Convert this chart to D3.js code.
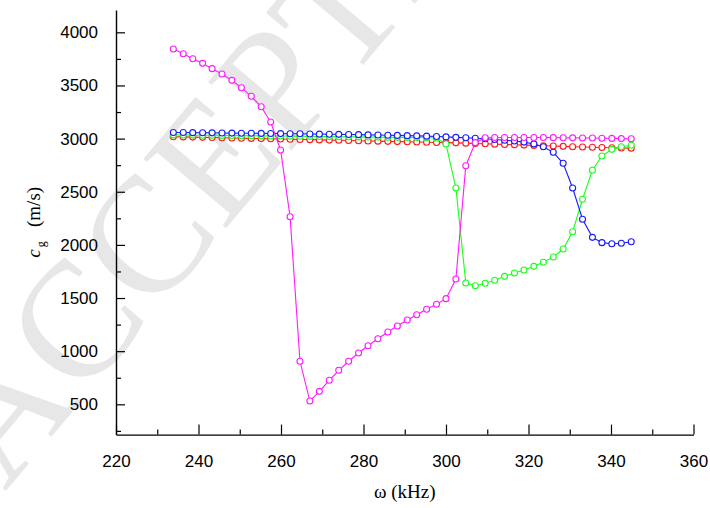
<!DOCTYPE html>
<html>
<head>
<meta charset="utf-8">
<script src="https://cdn.jsdelivr.net/npm/d3@7"></script>
<style>
  html, body { margin: 0; padding: 0; background: #fff; }
  svg { display: block; }
</style>
</head>
<body>
<svg id="chart" width="710" height="508"></svg>
<script>
// Frequency (kHz) sampled for every mode
const freq = [233.9, 236.3, 238.6, 241.0, 243.3, 245.7, 248.1, 250.4, 252.8, 255.2,
  257.5, 259.9, 262.2, 264.6, 267.0, 269.3, 271.7, 274.0, 276.4, 278.8,
  281.1, 283.5, 285.9, 288.2, 290.6, 292.9, 295.3, 297.7, 300.0, 302.4,
  304.8, 307.1, 309.5, 311.8, 314.2, 316.6, 318.9, 321.3, 323.6, 326.0,
  328.4, 330.7, 333.1, 335.5, 337.8, 340.2, 342.5, 344.9];

// Group velocity (m/s) of each mode
const modeRed = [3018, 3016, 3014, 3012, 3010, 3008, 3006, 3004, 3002, 3000,
  2998, 2996, 2994, 2992, 2990, 2988, 2986, 2984, 2982, 2980,
  2978, 2976, 2974, 2972, 2970, 2968, 2966, 2964, 2962, 2960,
  2957, 2954, 2951, 2948, 2945, 2942, 2939, 2936, 2933, 2930,
  2927, 2924, 2921, 2918, 2916, 2914, 2912, 2910];

const modeGreen = [3035, 3034, 3033, 3032, 3031, 3030, 3029, 3028, 3027, 3026,
  3025, 3024, 3023, 3022, 3021, 3020, 3019, 3018, 3017, 3016,
  3015, 3014, 3013, 3012, 3011, 3010, 3008, 3005, 2949, 2535,
  1641, 1616, 1639, 1667, 1704, 1735, 1764, 1798, 1836, 1886,
  1961, 2124, 2429, 2702, 2836, 2899, 2924, 2937];

const modeBlue = [3058, 3057, 3056, 3055, 3054, 3053, 3052, 3051, 3050, 3049,
  3048, 3047, 3046, 3045, 3044, 3042, 3041, 3040, 3038, 3037,
  3035, 3034, 3032, 3030, 3028, 3026, 3023, 3020, 3016, 3012,
  3008, 3003, 2998, 2992, 2985, 2977, 2967, 2950, 2924, 2871,
  2768, 2535, 2241, 2071, 2021, 2011, 2015, 2030];

const modeMagenta = [3843, 3799, 3752, 3708, 3658, 3608, 3548, 3479, 3398, 3300,
  3156, 2893, 2265, 905, 531, 622, 726, 820, 905, 983,
  1051, 1117, 1180, 1237, 1293, 1343, 1394, 1441, 1494, 1679,
  2745, 2962, 3008, 3010, 3011, 3011, 3011, 3010, 3010, 3009,
  3008, 3007, 3006, 3005, 3004, 3002, 3000, 2998];

const xMajorTicks = [220, 240, 260, 280, 300, 320, 340, 360];
const xMinorTicks = [230, 250, 270, 290, 310, 330, 350];
const yMajorTicks = [500, 1000, 1500, 2000, 2500, 3000, 3500, 4000];
const yMinorTicks = [250, 750, 1250, 1750, 2250, 2750, 3250, 3750];

const series = [
  { values: modeRed, color: "#ff1a1a" },
  { values: modeGreen, color: "#1aff1a" },
  { values: modeBlue, color: "#1a1aff" },
  { values: modeMagenta, color: "#ff1aff" }
];

const svg = d3.select("#chart");

// Faint diagonal watermark behind the plot, clipped to the page
svg.append("clipPath").attr("id", "page")
  .append("rect").attr("width", 710).attr("height", 508);
svg.append("g").attr("clip-path", "url(#page)")
  .append("text")
  .attr("transform", "translate(5,492) rotate(-50)")
  .attr("font-family", "'Liberation Serif', 'DejaVu Serif', serif")
  .attr("font-size", 165)
  .attr("fill", "#e7e7e7")
  .text("ACCEPTED");

const plotL = 116, plotR = 693.5, plotT = 10, plotB = 434.6;

const x = d3.scaleLinear().domain([220, 360]).range([plotL, plotR]);
const y = d3.scaleLinear().domain([215, 4210]).range([plotB, plotT]);

const tickFont = "'Liberation Sans', Arial, sans-serif";

// X axis: major ticks with labels, minor ticks without, all pointing inward
svg.append("g").attr("transform", `translate(0,${plotB})`)
  .call(d3.axisBottom(x).tickValues(xMajorTicks).tickSizeInner(-10).tickSizeOuter(0)
    .tickPadding(20).tickFormat(d3.format("d")));
svg.append("g").attr("transform", `translate(0,${plotB})`)
  .call(d3.axisBottom(x).tickValues(xMinorTicks).tickSizeInner(-5).tickSizeOuter(0).tickFormat(""))
  .call(g => g.select(".domain").remove());

// Y axis
svg.append("g").attr("transform", `translate(${plotL},0)`)
  .call(d3.axisLeft(y).tickValues(yMajorTicks).tickSizeInner(-9).tickSizeOuter(0)
    .tickPadding(18).tickFormat(d3.format("d")));
svg.append("g").attr("transform", `translate(${plotL},0)`)
  .call(d3.axisLeft(y).tickValues(yMinorTicks).tickSizeInner(-5).tickSizeOuter(0).tickFormat(""))
  .call(g => g.select(".domain").remove());

svg.selectAll(".domain").attr("stroke", "#000").attr("stroke-width", 1.4);
svg.selectAll(".tick line").attr("stroke", "#000").attr("stroke-width", 1.2);
svg.selectAll(".tick text").attr("font-family", tickFont).attr("font-size", 17).attr("fill", "#000");

// Curves with open circle markers
const line = d3.line().x((d, i) => x(freq[i])).y(d => y(d));
series.forEach(s => {
  const g = svg.append("g");
  g.append("path")
    .datum(s.values)
    .attr("d", line)
    .attr("fill", "none")
    .attr("stroke", s.color)
    .attr("stroke-width", 1.1);
  g.selectAll("circle")
    .data(s.values)
    .join("circle")
    .attr("cx", (d, i) => x(freq[i]))
    .attr("cy", d => y(d))
    .attr("r", 3)
    .attr("fill", "#fff")
    .attr("stroke", s.color)
    .attr("stroke-width", 1.1);
});

// Axis titles
const serif = "'Liberation Serif', 'Times New Roman', serif";
svg.append("text")
  .attr("x", (plotL + plotR) / 2)
  .attr("y", 498)
  .attr("text-anchor", "middle")
  .attr("font-family", serif)
  .attr("font-size", 19)
  .text("ω (kHz)");

const yt = svg.append("text")
  .attr("transform", `translate(40,${(plotT + plotB) / 2}) rotate(-90)`)
  .attr("text-anchor", "middle")
  .attr("font-family", serif)
  .attr("font-size", 19);
yt.append("tspan").attr("font-style", "italic").text("c");
yt.append("tspan").attr("font-size", 12).attr("dy", 5).attr("dx", 2).text("g");
yt.append("tspan").attr("dy", -5).text("\u2002 (m/s)");
</script>
</body>
</html>
